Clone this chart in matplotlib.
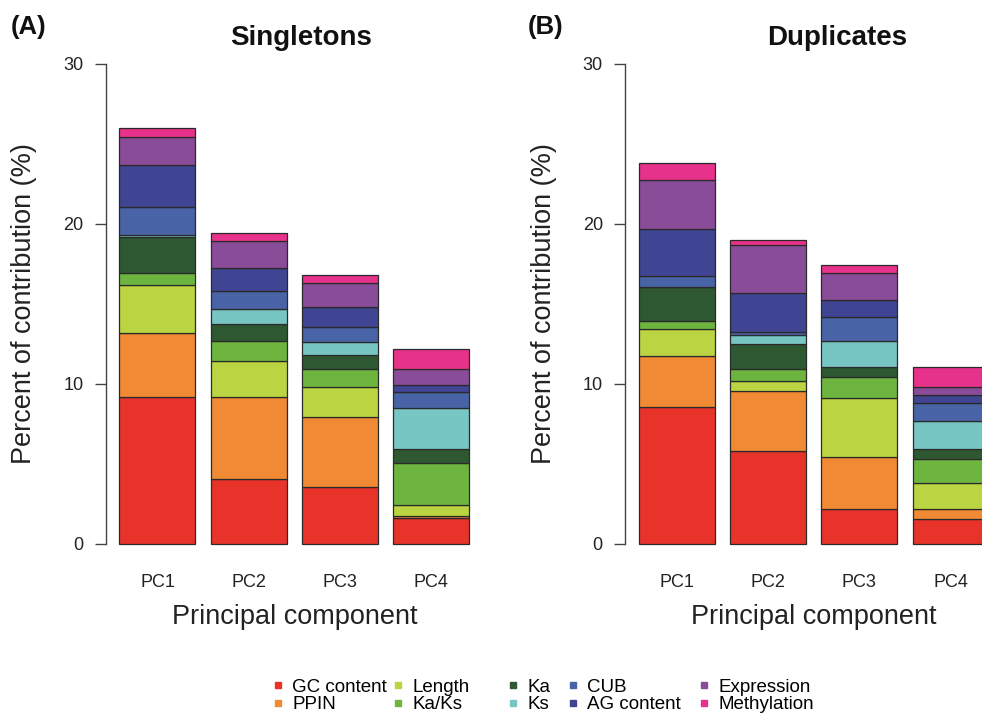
import matplotlib
matplotlib.use("Agg")
import matplotlib.pyplot as plt
from matplotlib.lines import Line2D
import numpy as np

plt.rcParams['font.family'] = ['Liberation Sans', 'DejaVu Sans']

pcs = ["PC1", "PC2", "PC3", "PC4"]
factors = ["GC content", "PPIN", "Length", "Ka/Ks", "Ka", "Ks",
           "CUB", "AG content", "Expression", "Methylation"]
colors = ["#E8332A", "#F08A34", "#BBD442", "#6EB540", "#2E5832", "#77C6C4",
          "#4863A6", "#3F4592", "#894C98", "#E6328A"]

# Singletons: contribution (%) of each factor to PC1..PC4
sing_gc = [9.17, 4.08, 3.54, 1.63]
sing_ppin = [4.00, 5.09, 4.38, 0.12]
sing_length = [3.04, 2.29, 1.91, 0.71]
sing_kaks = [0.75, 1.21, 1.09, 2.58]
sing_ka = [2.25, 1.08, 0.91, 0.88]
sing_ks = [0.10, 0.92, 0.80, 2.58]
sing_cub = [1.73, 1.12, 0.91, 1.00]
sing_ag = [2.63, 1.46, 1.25, 0.46]
sing_expr = [1.79, 1.67, 1.50, 0.96]
sing_meth = [0.54, 0.50, 0.50, 1.29]

# Duplicates
dup_gc = [8.54, 5.79, 2.21, 1.58]
dup_ppin = [3.21, 3.79, 3.21, 0.63]
dup_length = [1.71, 0.63, 3.71, 1.62]
dup_kaks = [0.50, 0.71, 1.29, 1.46]
dup_ka = [2.08, 1.58, 0.66, 0.67]
dup_ks = [0.00, 0.58, 1.59, 1.75]
dup_cub = [0.71, 0.17, 1.54, 1.12]
dup_ag = [2.96, 2.42, 1.04, 0.50]
dup_expr = [3.04, 3.00, 1.67, 0.46]
dup_meth = [1.04, 0.33, 0.50, 1.25]

singletons = [sing_gc, sing_ppin, sing_length, sing_kaks, sing_ka, sing_ks,
              sing_cub, sing_ag, sing_expr, sing_meth]
duplicates = [dup_gc, dup_ppin, dup_length, dup_kaks, dup_ka, dup_ks,
              dup_cub, dup_ag, dup_expr, dup_meth]

W, H = 982, 718
fig = plt.figure(figsize=(W / 100, H / 100), dpi=100)

# R-like barplot geometry: width 1, space 0.2
x = 0.2 + np.arange(4) * 1.2 + 0.5
xlim = (0.016, 4.984)
ax_w = 377.6
ax_bottom = 563.2
ax_top = 44.8


def draw_panel(left_px, data, title, title_x, letter, letter_x):
    ax = fig.add_axes([left_px / W, (H - ax_bottom) / H, ax_w / W,
                       (ax_bottom - ax_top) / H])
    bottom = np.zeros(4)
    for vals, col in zip(data, colors):
        ax.bar(x, vals, width=1.0, bottom=bottom, color=col,
               edgecolor="#2a2a2a", linewidth=0.9)
        bottom += np.array(vals)
    ax.set_xlim(*xlim)
    ax.set_ylim(-1.2, 31.2)
    for s in ["top", "right", "bottom"]:
        ax.spines[s].set_visible(False)
    ax.spines["left"].set_bounds(0, 30)
    ax.spines["left"].set_color("#444444")
    ax.spines["left"].set_linewidth(1.0)
    ax.set_yticks([0, 10, 20, 30])
    ax.tick_params(axis="y", length=8, width=1.0, color="#444444",
                   labelsize=13, pad=8, labelcolor="#222222")
    ax.set_xticks(x)
    ax.set_xticklabels(pcs)
    ax.tick_params(axis="x", length=0, labelsize=13, pad=8,
                   labelcolor="#222222")
    ax.set_xlabel("Principal component", fontsize=19.5, color="#222222")
    ax.xaxis.set_label_coords(0.5, -0.078)
    ax.set_ylabel("Percent of contribution (%)", fontsize=19.5,
                  color="#222222")
    ax.yaxis.set_label_coords(-68 / ax_w, 0.5)
    fig.text(title_x / W, 1 - 38 / H, title, fontsize=20, fontweight="bold",
             ha="center", va="center", color="#111111")
    fig.text(letter_x / W, 1 - 27 / H, letter, fontsize=18.5,
             fontweight="bold", ha="left", va="center", color="#111111")
    return ax


draw_panel(105.5, singletons, "Singletons", 301, "(A)", 11)
draw_panel(625, duplicates, "Duplicates", 837, "(B)", 528)

# legend: 5 columns of two entries, placed like the R legend
handles = [Line2D([], [], marker="s", linestyle="none", markersize=5,
                  markerfacecolor=c, markeredgecolor=c) for c in colors]
col_marker_x = [278, 398, 513, 573, 704]
fs = 13.5
for i, mx in enumerate(col_marker_x):
    fig.legend(handles[2 * i:2 * i + 2], factors[2 * i:2 * i + 2],
               loc="center left", frameon=False,
               bbox_to_anchor=((mx - 0.4 * fs * 100 / 72) / W, 1 - 696 / H),
               fontsize=fs, handlelength=0.8, handletextpad=0.35,
               labelspacing=0.02, borderpad=0, borderaxespad=0)

fig.savefig("out.png", dpi=100, facecolor="white")
